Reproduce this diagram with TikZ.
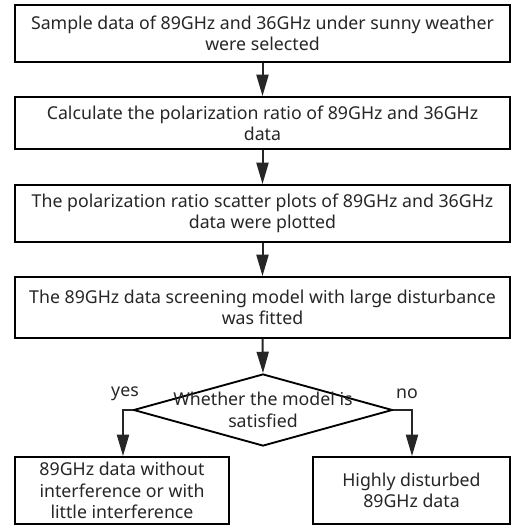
\documentclass[tikz,border=0pt]{standalone}
\usepackage{fontspec}
\setmainfont{Noto Sans}
\usetikzlibrary{shapes.geometric,arrows.meta}
\tikzset{
  box/.style={draw=black, line width=1.4pt, align=center, font=\fontsize{13.3}{16}\selectfont, text=black!85, inner sep=0pt},
  conn/.style={draw=black!85, line width=1.5pt, -{Triangle[length=16pt,width=9pt]}},
  lbl/.style={font=\fontsize{13.3}{16}\selectfont, text=black!85, inner sep=0pt}
}
\begin{document}
\begin{tikzpicture}[x=0.75pt,y=-0.75pt]
\useasboundingbox (0,0) rectangle (511,526);
\node[box, minimum width=495*0.75pt, minimum height=57*0.75pt] (b1) at (262.5,33.5) {Sample data of 89GHz and 36GHz under sunny weather\\were selected};
\node[box, minimum width=495*0.75pt, minimum height=52*0.75pt] (b2) at (262.5,123) {Calculate the polarization ratio of 89GHz and 36GHz\\data};
\node[box, minimum width=495*0.75pt, minimum height=57*0.75pt] (b3) at (262.5,213.5) {The polarization ratio scatter plots of 89GHz and 36GHz\\data were plotted};
\node[box, minimum width=495*0.75pt, minimum height=61*0.75pt] (b4) at (262.5,307.5) {The 89GHz data screening model with large disturbance\\was fitted};
\node[draw=black, line width=1.4pt, diamond, aspect=3.6, inner sep=0pt, minimum width=259*0.75pt, minimum height=72*0.75pt] (d) at (263,410) {};
\node[lbl, align=center] (dt) at (263,410) {Whether the model is\\satisfied};
\node[box, minimum width=214*0.75pt, minimum height=67*0.75pt] (b5) at (122,490.5) {89GHz data without\\interference or with\\little interference};
\node[box, minimum width=197*0.75pt, minimum height=67*0.75pt] (b6) at (411.5,490.5) {Highly disturbed\\89GHz data};
\coordinate (yl) at (123,410);
\coordinate (nr) at (412,410);
\draw[conn] (b1.south) -- (b2.north);
\draw[conn] (b2.south) -- (b3.north);
\draw[conn] (b3.south) -- (b4.north);
\draw[conn] (b4.south) -- (d.north);
\draw[conn] (d.west) -- (yl) -- (yl |- b5.north);
\draw[conn] (d.east) -- (nr) -- (nr |- b6.north);
\node[lbl] (yes) at (125,394) {yes};
\node[lbl] (no) at (407,394) {no};
\end{tikzpicture}
\end{document}
